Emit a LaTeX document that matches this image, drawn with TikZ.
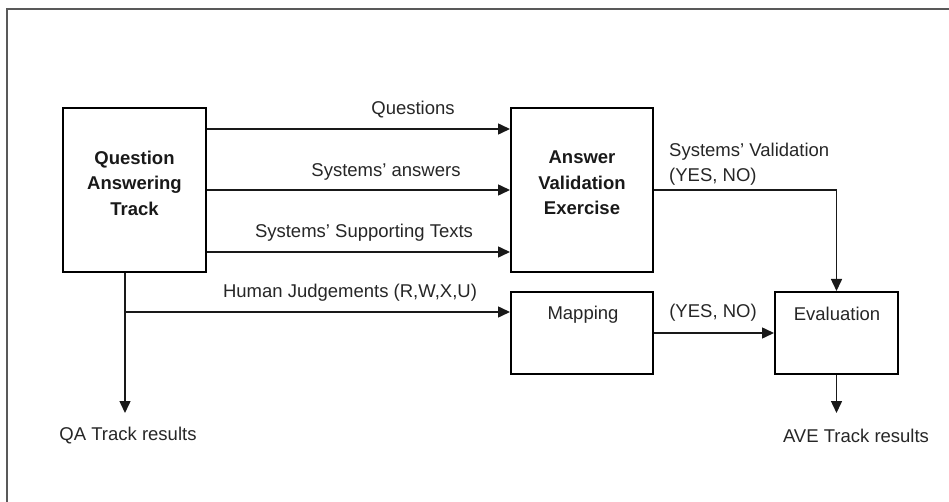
\documentclass[tikz,border=0pt]{standalone}
\usepackage{fontspec}
\setmainfont{Liberation Sans}
\usetikzlibrary{arrows.meta}
\begin{document}
\begin{tikzpicture}[x=1pt,y=-1pt,
  box/.style={draw=black, line width=2pt, inner sep=0pt},
  lbl/.style={text=black!85, font=\fontsize{18.5}{25.5}\selectfont, inner sep=0pt},
  blbl/.style={text=black!90, font=\fontsize{18.5}{25.5}\selectfont\bfseries, inner sep=0pt, align=center},
  arr/.style={draw=black!90, line width=1.5pt, -{Triangle[length=12pt,width=11pt]}},
  ln/.style={draw=black!90, line width=1.5pt},
  frame/.style={draw=black!65, line width=2pt}]
\useasboundingbox (0,0) rectangle (949,502);
% outer frame (top and left edges visible)
\draw[frame] (7,502) -- (7,9) -- (949,9);
% boxes
\node[box, minimum width=143pt, minimum height=164pt] (qa) at (134.5,190) {};
\node[blbl] (qat) at (134.5,183) {Question\\Answering\\Track};
\node[box, minimum width=142pt, minimum height=164pt] (ave) at (582,190) {};
\node[blbl] (avet) at (582,183) {Answer\\Validation\\Exercise};
\node[box, minimum width=142pt, minimum height=82pt] (map) at (582,333) {};
\node[lbl] (mapt) at (583,315) {Mapping};
\node[box, minimum width=123pt, minimum height=82pt] (eval) at (836.5,333) {};
\node[lbl] (evalt) at (837,314) {Evaluation};
% helper coordinates
\coordinate (y1) at (0,129);
\coordinate (y2) at (0,190);
\coordinate (y3) at (0,252);
\coordinate (yh) at (0,312);
\coordinate (qx) at (125,0);
\coordinate (ex) at (836.5,0);
\coordinate (qres) at (125,413);
\coordinate (eres) at (836.5,413);
\coordinate (corner) at (836.5,190);
\coordinate (hj) at (125,312);
% connectors
\draw[arr] (qa.east |- y1) -- (ave.west |- y1);
\draw[arr] (qa.east |- y2) -- (ave.west |- y2);
\draw[arr] (qa.east |- y3) -- (ave.west |- y3);
\draw[arr] (qa.south -| qx) -- (qres);
\draw[arr] (hj) -- (map.west |- yh);
\draw[arr] (ave.east |- y2) -- (corner) -- (eval.north);
\draw[arr] (map.east) -- (eval.west);
\draw[arr] (eval.south) -- (eres);
% labels
\node[lbl] (l1) at (413,110) {Questions};
\node[lbl] (l2) at (386,172) {Systems’ answers};
\node[lbl] (l3) at (364,233) {Systems’ Supporting Texts};
\node[lbl] (l4) at (350,293) {Human Judgements (R,W,X,U)};
\node[lbl, align=left, anchor=west] (l5) at (669,164) {Systems’ Validation\\(YES, NO)};
\node[lbl] (l6) at (713,313) {(YES, NO)};
\node[lbl] (l7) at (128,436) {QA Track results};
\node[lbl] (l8) at (856,436) {AVE Track results};
\end{tikzpicture}
\end{document}
